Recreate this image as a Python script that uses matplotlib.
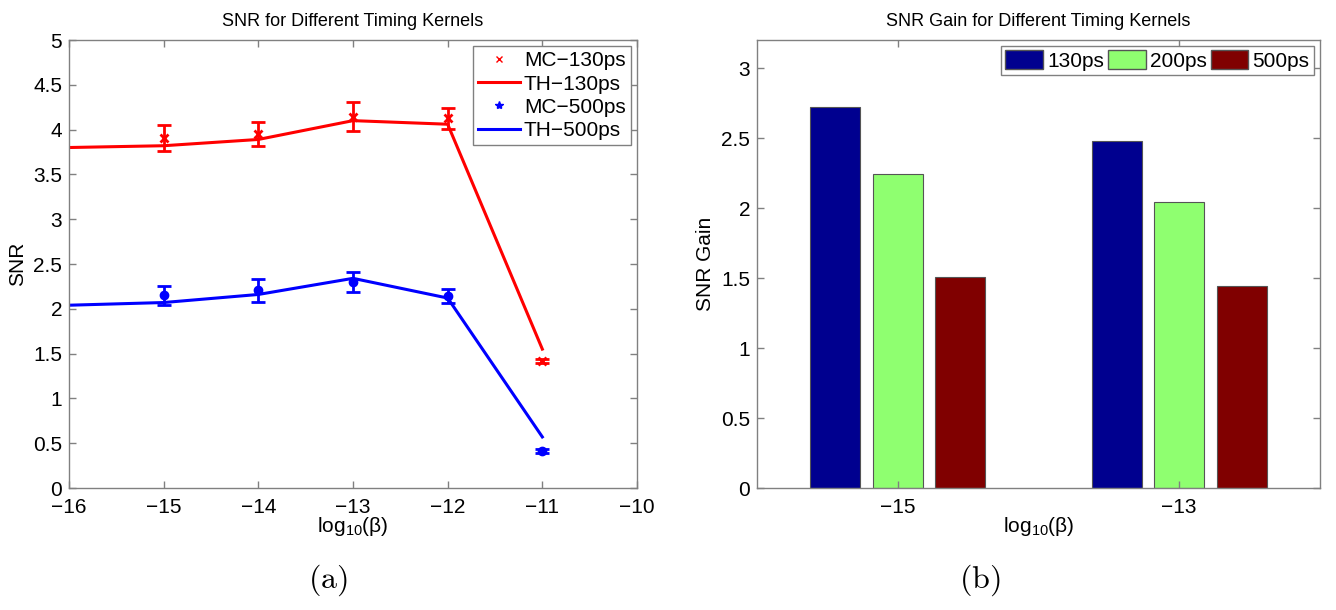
import matplotlib
matplotlib.use('Agg')
import matplotlib.pyplot as plt
import numpy as np
from matplotlib.lines import Line2D
from matplotlib.patches import Patch

plt.rcParams['font.family'] = ['Liberation Sans', 'DejaVu Sans']
plt.rcParams['mathtext.default'] = 'regular'

# 数据 (a): 理论曲线 + MC 仿真
x_th = [-16, -15, -14, -13, -12, -11]
th_130 = [3.80, 3.82, 3.89, 4.10, 4.06, 1.55]
th_500 = [2.04, 2.07, 2.16, 2.34, 2.12, 0.57]

x_mc = [-15, -14, -13, -12, -11]
mc_130 = [3.905, 3.955, 4.145, 4.125, 1.42]
mc_130_err = [0.145, 0.135, 0.165, 0.115, 0.02]
mc_500 = [2.15, 2.205, 2.30, 2.14, 0.41]
mc_500_err = [0.11, 0.125, 0.11, 0.08, 0.02]

# 数据 (b): SNR 增益
groups = ['\u221215', '\u221213']
kernels = ['130ps', '200ps', '500ps']
gain_130 = [2.72, 2.48]
gain_200 = [2.24, 2.04]
gain_500 = [1.51, 1.44]

fig = plt.figure(figsize=(13.36, 6.10), dpi=100)
ax1 = fig.add_axes([69/1336, 122/610, 568/1336, 448/610])
ax2 = fig.add_axes([757/1336, 122/610, 563/1336, 448/610])

edge = '#808080'
fs = 15


def matlab_style(ax):
    for s in ax.spines.values():
        s.set_color(edge)
        s.set_linewidth(1.0)
    ax.tick_params(direction='in', length=5, width=1, color=edge,
                   top=True, right=True, labelsize=fs, pad=5)
    ax.tick_params(axis='x', pad=7)


# ---- (a) ----
ax1.plot(x_th, th_130, color='red', lw=2.2)
ax1.plot(x_th, th_500, color='blue', lw=2.2)
ax1.errorbar(x_mc, mc_130, yerr=mc_130_err, fmt='x', color='red', ms=6, mew=2,
             elinewidth=2, capsize=5, capthick=2)
ax1.errorbar(x_mc, mc_500, yerr=mc_500_err, fmt='o', color='blue', ms=6,
             elinewidth=2, capsize=5, capthick=2)
ax1.set_xlim(-16, -10)
ax1.set_ylim(0, 5)
ax1.set_xticks(np.arange(-16, -9, 1))
ax1.set_yticks(np.arange(0, 5.01, 0.5))
ax1.set_yticklabels(['0', '0.5', '1', '1.5', '2', '2.5', '3', '3.5', '4', '4.5', '5'])
matlab_style(ax1)
ax1.set_xlabel('log$_{10}$(\u03b2)', fontsize=fs, labelpad=-1)
ax1.set_ylabel('SNR', fontsize=fs, labelpad=4)
ax1.set_title('SNR for Different Timing Kernels', fontsize=13, pad=10)

handles = [
    Line2D([], [], ls='none', marker='x', color='red', ms=5),
    Line2D([], [], color='red', lw=2.2),
    Line2D([], [], ls='none', marker='*', color='blue', ms=6),
    Line2D([], [], color='blue', lw=2.2),
]
leg = ax1.legend(handles, ['MC\u2212130ps', 'TH\u2212130ps', 'MC\u2212500ps', 'TH\u2212500ps'],
                 loc='upper right', fontsize=fs, fancybox=False, edgecolor=edge,
                 framealpha=1, handlelength=2.0, borderpad=0.25, labelspacing=0.2,
                 handletextpad=0.2, borderaxespad=0.3)
leg.get_frame().set_linewidth(1.0)

# ---- (b) ----
pos = np.arange(1, len(groups) + 1)
w = 0.177
off = 0.222
colors = ['#00008F', '#8FFF70', '#800000']
for k, (vals, c) in enumerate(zip([gain_130, gain_200, gain_500], colors)):
    ax2.bar(pos + (k - 1) * off, vals, width=w, color=c, edgecolor='#555555', lw=0.8)
ax2.set_xlim(0.5, 2.5)
ax2.set_ylim(0, 3.2)
ax2.set_xticks(pos)
ax2.set_xticklabels(groups)
ax2.set_yticks(np.arange(0, 3.01, 0.5))
ax2.set_yticklabels(['0', '0.5', '1', '1.5', '2', '2.5', '3'])
matlab_style(ax2)
ax2.set_xlabel('log$_{10}$(\u03b2)', fontsize=fs, labelpad=-1)
ax2.set_ylabel('SNR Gain', fontsize=fs, labelpad=4)
ax2.set_title('SNR Gain for Different Timing Kernels', fontsize=13, pad=10)

patches = [Patch(facecolor=c, edgecolor='#555555') for c in colors]
leg2 = ax2.legend(patches, kernels, loc='upper right', ncol=3, fontsize=fs,
                  fancybox=False, edgecolor=edge, framealpha=1, handlelength=1.8,
                  handleheight=1.0, borderpad=0.2, columnspacing=0.2,
                  handletextpad=0.2, borderaxespad=0.3)
leg2.get_frame().set_linewidth(1.0)

fig.text(328/1336, 1 - 580/610, r'$\mathrm{(a)}$', math_fontfamily='cm',
         fontsize=23, ha='center', va='center')
fig.text(980/1336, 1 - 580/610, r'$\mathrm{(b)}$', math_fontfamily='cm',
         fontsize=23, ha='center', va='center')

fig.savefig('out.png', dpi=100)
